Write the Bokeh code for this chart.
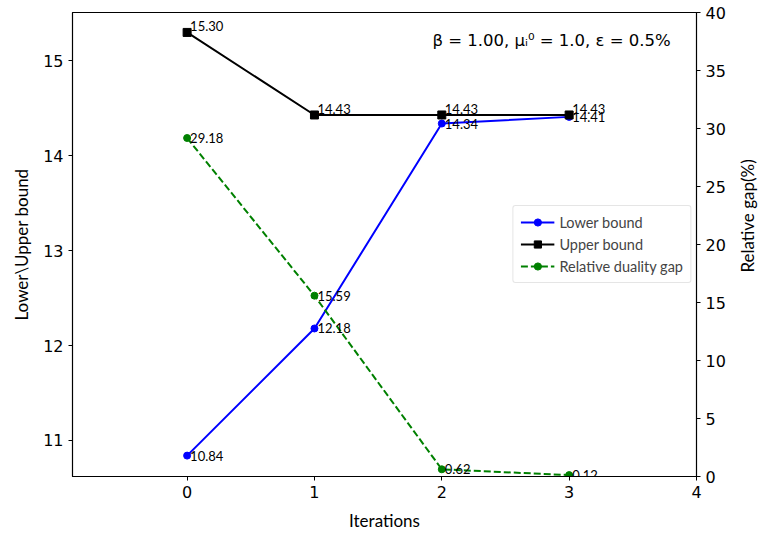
import math
from bokeh.plotting import figure
from bokeh.layouts import row
from bokeh.models import Range1d, LinearAxis, Legend, LegendItem, Label, ColumnDataSource, FixedTicker
from bokeh.core.properties import value
from bokeh.embed import file_html
from bokeh.resources import INLINE

iterations = [0, 1, 2, 3]
lower_bound = [10.84, 12.18, 14.34, 14.41]
upper_bound = [15.30, 14.43, 14.43, 14.43]
duality_gap = [29.18, 15.59, 0.62, 0.12]
x_ticks = [0, 1, 2, 3, 4]
gap_ticks = [0, 5, 10, 15, 20, 25, 30, 35, 40]
right_label = ["Relative gap(%)"]

lower_labels = ["%.2f" % v for v in lower_bound]
upper_labels = ["%.2f" % v for v in upper_bound]
gap_labels = ["%.2f" % v for v in duality_gap]

p = figure(width=736, height=536, output_backend="svg", toolbar_location=None,
           x_range=Range1d(-0.9, 4.0), y_range=Range1d(10.62, 15.51),
           min_border_left=72, min_border_right=40, min_border_top=12, min_border_bottom=60)
p.extra_y_ranges = {"gap": Range1d(0, 40)}
p.grid.visible = False
p.outline_line_color = "black"
p.outline_line_width = 1.2
p.background_fill_color = "white"
p.border_fill_color = "white"

tick_font = "DejaVu Sans"
lab_font = "Lato"

def style_axis(ax):
    ax.major_label_text_font = tick_font
    ax.major_label_text_font_size = "16px"
    ax.major_label_text_color = "black"
    ax.axis_label_text_font = lab_font
    ax.axis_label_text_font_size = "17px"
    ax.axis_label_text_font_style = "normal"
    ax.axis_label_text_color = "black"
    ax.major_tick_out = 4
    ax.major_tick_in = 0
    ax.minor_tick_out = 0
    ax.minor_tick_in = 0
    ax.axis_line_color = "black"
    ax.major_tick_line_color = "black"

p.xaxis.ticker = FixedTicker(ticks=x_ticks)
p.xaxis.axis_label = "Iterations"
p.yaxis.axis_label = "Lower\\Upper bound"
p.yaxis.ticker = FixedTicker(ticks=[11, 12, 13, 14, 15])
style_axis(p.xaxis[0])
style_axis(p.yaxis[0])
p.xaxis[0].axis_label_standoff = 9
p.yaxis[0].axis_label_standoff = 8
p.yaxis[0].major_label_orientation = "horizontal"

rax = LinearAxis(y_range_name="gap", ticker=FixedTicker(ticks=gap_ticks))
style_axis(rax)
p.add_layout(rax, "right")

src = ColumnDataSource(dict(x=iterations, lo=lower_bound, up=upper_bound, gap=duality_gap,
                            lol=lower_labels, upl=upper_labels, gapl=gap_labels))

l1 = p.line("x", "lo", source=src, line_color="blue", line_width=2)
m1 = p.scatter("x", "lo", source=src, marker="circle", size=7, fill_color="blue", line_color="blue")
l2 = p.line("x", "up", source=src, line_color="black", line_width=2)
m2 = p.scatter("x", "up", source=src, marker="square", size=8, fill_color="black", line_color="black")
l3 = p.line("x", "gap", source=src, line_color="green", line_width=2, line_dash="7 3", y_range_name="gap")
m3 = p.scatter("x", "gap", source=src, marker="circle", size=7, fill_color="green", line_color="green", y_range_name="gap")

p.text("x", "lo", text="lol", source=src, x_offset=3, text_baseline="middle",
       text_font=value(lab_font), text_font_size="13px", text_color="black")
p.text("x", "up", text="upl", source=src, x_offset=3, y_offset=-1, text_baseline="bottom",
       text_font=value(lab_font), text_font_size="13px", text_color="black")
p.text("x", "gap", text="gapl", source=src, x_offset=3, text_baseline="middle",
       text_font=value(lab_font), text_font_size="13px", text_color="black", y_range_name="gap")

legend = Legend(items=[LegendItem(label="Lower bound", renderers=[l1, m1]),
                       LegendItem(label="Upper bound", renderers=[l2, m2]),
                       LegendItem(label="Relative duality gap", renderers=[l3, m3])],
                location="center_right")
legend.label_text_font = lab_font
legend.label_text_font_size = "14.5px"
legend.glyph_width = 34
legend.glyph_height = 18
legend.label_height = 18
legend.spacing = 4
legend.padding = 7
legend.margin = 5
legend.border_line_color = "#cccccc"
legend.border_line_width = 1
legend.border_radius = 3
legend.background_fill_alpha = 0.9
p.add_layout(legend)

ann = Label(x=3.88, y=15.21, text_align="right", text_baseline="middle",
            text="\u03b2 = 1.00,  \u03bc\u1d62\u2070 = 1.0,  \u03b5 = 0.5%",
            text_font="DejaVu Sans", text_font_size="16.5px", text_color="black")
p.add_layout(ann)

# narrow companion figure holding the right-hand axis title, reading bottom to top
q = figure(width=22, height=536, output_backend="svg", toolbar_location=None,
           x_range=Range1d(0, 22), y_range=Range1d(0, 536),
           min_border=0, min_border_left=0, min_border_right=0, min_border_top=0, min_border_bottom=0)
q.axis.visible = False
q.grid.visible = False
q.outline_line_color = None
q.background_fill_color = "white"
q.border_fill_color = "white"
q.text(x=[11], y=[301], text=right_label, angle=math.pi / 2, text_align="center", text_baseline="middle",
       text_font=value(lab_font), text_font_size="17px", text_color="black")

layout = row(p, q, spacing=0)
open("out.html", "w").write(file_html(layout, INLINE))
